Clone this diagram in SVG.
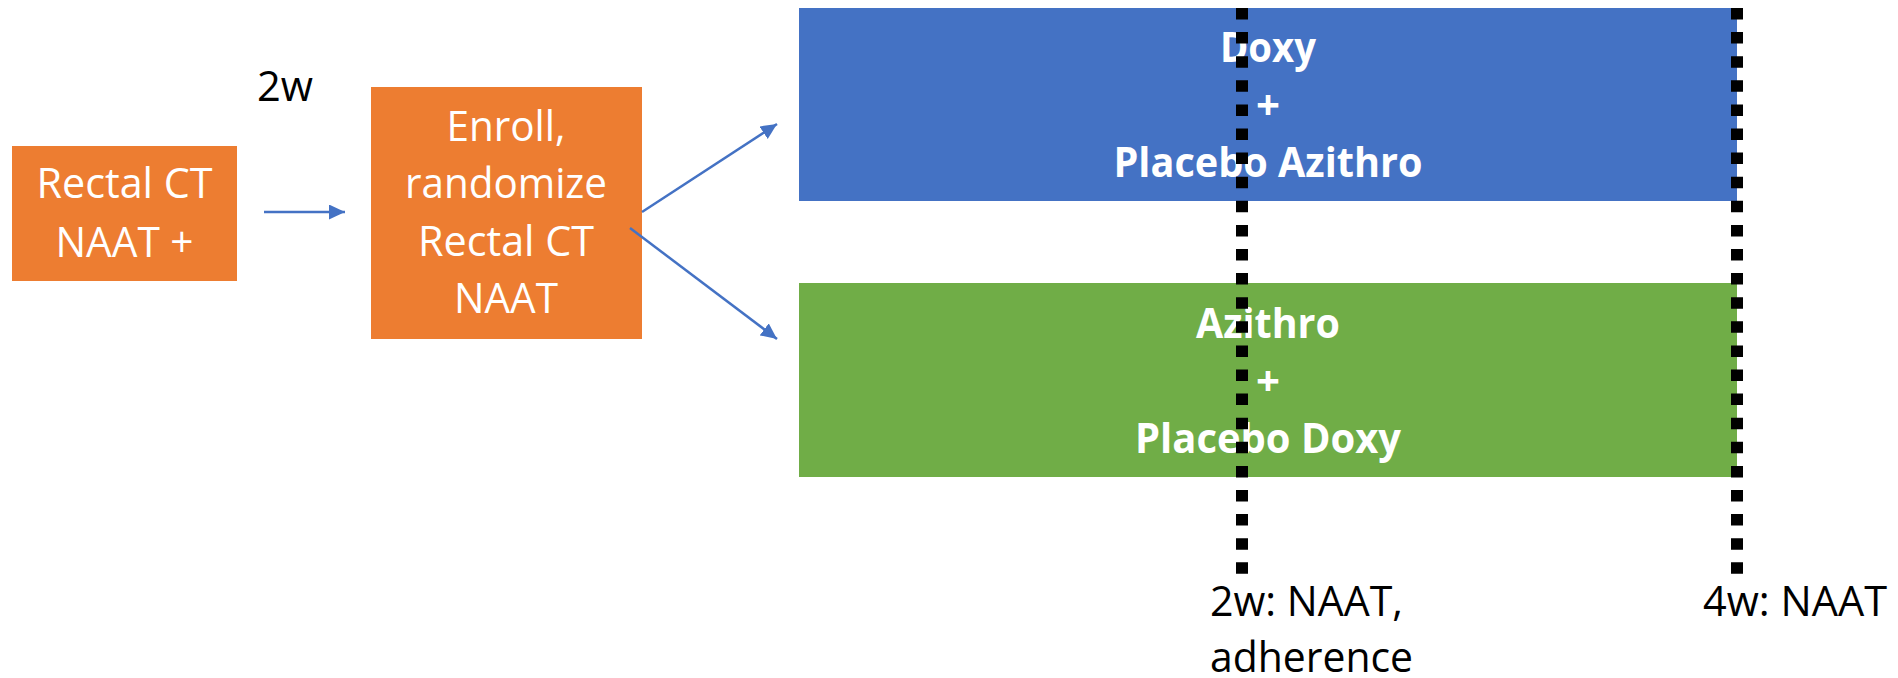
<svg xmlns="http://www.w3.org/2000/svg" width="1898" height="678" viewBox="0 0 1898 678">
  <style>
    .box { stroke: none; }
    .orange { fill: #ED7D31; }
    .blue { fill: #4472C4; }
    .green { fill: #70AD47; }
    .wt { font-family: "Open Sans", "Liberation Sans", sans-serif; font-size: 42px; fill: #FFFFFF; text-anchor: middle; }
    .wb { font-family: "Open Sans", "Liberation Sans", sans-serif; font-size: 42px; font-weight: bold; fill: #FFFFFF; text-anchor: middle; }
    .bt { font-family: "Open Sans", "Liberation Sans", sans-serif; font-size: 42px; fill: #000000; }
    .conn { stroke: #4472C4; stroke-width: 2.5; fill: none; }
    .dots { stroke: #000000; stroke-width: 12; stroke-dasharray: 11.5 12.6; fill: none; }
  </style>
  <defs>
    <marker id="arrow" markerUnits="userSpaceOnUse" markerWidth="17" markerHeight="16" refX="16" refY="7.5" orient="auto">
      <path d="M0,0 L16,7.5 L0,15 Z" fill="#4472C4"/>
    </marker>
  </defs>

  <g id="node-rectal-ct">
    <rect class="box orange" x="12" y="146" width="225" height="135"/>
    <text class="wt" x="124.5" y="198" textLength="176" lengthAdjust="spacingAndGlyphs">Rectal CT</text>
    <text class="wt" x="124.5" y="257" textLength="138" lengthAdjust="spacingAndGlyphs">NAAT +</text>
  </g>

  <g id="label-2w">
    <text class="bt" x="257" y="101" textLength="56" lengthAdjust="spacingAndGlyphs">2w</text>
  </g>

  <g id="node-enroll">
    <rect class="box orange" x="371" y="87" width="271" height="252"/>
    <text class="wt" x="506" y="141" textLength="119" lengthAdjust="spacingAndGlyphs">Enroll,</text>
    <text class="wt" x="506" y="198" textLength="202" lengthAdjust="spacingAndGlyphs">randomize</text>
    <text class="wt" x="506" y="256" textLength="176" lengthAdjust="spacingAndGlyphs">Rectal CT</text>
    <text class="wt" x="506" y="313" textLength="104" lengthAdjust="spacingAndGlyphs">NAAT</text>
  </g>

  <g id="node-doxy">
    <rect class="box blue" x="799" y="8" width="938" height="193"/>
    <text class="wb" x="1268" y="62" textLength="96" lengthAdjust="spacingAndGlyphs">Doxy</text>
    <text class="wb" x="1268" y="119.5">+</text>
    <text class="wb" x="1268" y="177" textLength="309" lengthAdjust="spacingAndGlyphs">Placebo Azithro</text>
  </g>

  <g id="node-azithro">
    <rect class="box green" x="799" y="283" width="938" height="194"/>
    <text class="wb" x="1268" y="338" textLength="144" lengthAdjust="spacingAndGlyphs">Azithro</text>
    <text class="wb" x="1268" y="395.5">+</text>
    <text class="wb" x="1268" y="453" textLength="266" lengthAdjust="spacingAndGlyphs">Placebo Doxy</text>
  </g>

  <g id="connectors">
    <line class="conn" x1="264" y1="212" x2="345" y2="212" marker-end="url(#arrow)"/>
    <line class="conn" x1="642" y1="212" x2="777" y2="124" marker-end="url(#arrow)"/>
    <line class="conn" x1="630" y1="228" x2="777" y2="339" marker-end="url(#arrow)"/>
  </g>

  <g id="timelines">
    <line class="dots" x1="1242" y1="8" x2="1242" y2="574"/>
    <line class="dots" x1="1737" y1="8" x2="1737" y2="574"/>
  </g>

  <g id="label-2w-naat">
    <text class="bt" x="1210" y="616" textLength="193" lengthAdjust="spacingAndGlyphs">2w: NAAT,</text>
    <text class="bt" x="1210" y="672" textLength="203" lengthAdjust="spacingAndGlyphs">adherence</text>
  </g>

  <g id="label-4w-naat">
    <text class="bt" x="1703" y="616" textLength="184" lengthAdjust="spacingAndGlyphs">4w: NAAT</text>
  </g>
</svg>
